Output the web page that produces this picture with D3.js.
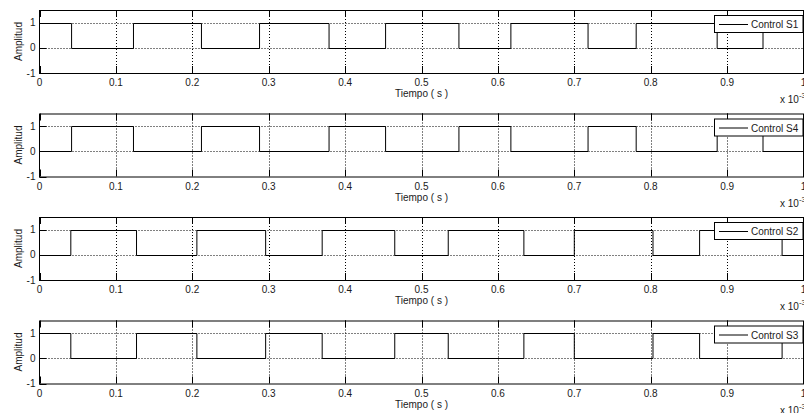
<!DOCTYPE html>
<html>
<head>
<meta charset="utf-8">
<script src="https://cdn.jsdelivr.net/npm/d3@7"></script>
<style>
  body { margin: 0; background: #fff; }
  svg { display: block; }
  text { font-family: "Liberation Sans", Arial, Helvetica, sans-serif; fill: #1a1a1a; }
</style>
</head>
<body>
<div id="container"></div>
<script>
// ---- data, time in ms (x 10^-3 s) ----
var xTicks = [0, 0.1, 0.2, 0.3, 0.4, 0.5, 0.6, 0.7, 0.8, 0.9, 1];
var xTickLabels = ["0", "0.1", "0.2", "0.3", "0.4", "0.5", "0.6", "0.7", "0.8", "0.9", "1"];
var yTicks = [-1, 0, 1];
var yTickLabels = ["-1", "0", "1"];
var seriesNames = ["Control S1", "Control S4", "Control S2", "Control S3"];

var s1Times  = [0, 0.042, 0.123, 0.212, 0.288, 0.379, 0.453, 0.549, 0.617, 0.718, 0.781, 0.887, 0.947, 1];
var s1Levels = [1, 0, 1, 0, 1, 0, 1, 0, 1, 0, 1, 0, 1, 1];
var s4Times  = [0, 0.042, 0.123, 0.212, 0.288, 0.379, 0.453, 0.549, 0.617, 0.718, 0.781, 0.887, 0.947, 1];
var s4Levels = [0, 1, 0, 1, 0, 1, 0, 1, 0, 1, 0, 1, 0, 0];
var s2Times  = [0, 0.041, 0.127, 0.206, 0.296, 0.370, 0.465, 0.535, 0.634, 0.700, 0.803, 0.864, 0.972, 1];
var s2Levels = [0, 1, 0, 1, 0, 1, 0, 1, 0, 1, 0, 1, 0, 0];
var s3Times  = [0, 0.041, 0.127, 0.206, 0.296, 0.370, 0.465, 0.535, 0.634, 0.700, 0.803, 0.864, 0.972, 1];
var s3Levels = [1, 0, 1, 0, 1, 0, 1, 0, 1, 0, 1, 0, 1, 1];

var panels = [
  {name: seriesNames[0], times: s1Times, levels: s1Levels},
  {name: seriesNames[1], times: s4Times, levels: s4Levels},
  {name: seriesNames[2], times: s2Times, levels: s2Levels},
  {name: seriesNames[3], times: s3Times, levels: s3Levels}
];

// ---- layout ----
const width = 804;
const height = 413;
const left = 39.5;
const right = 803.5;
const tops = [10, 113.5, 217, 320.5];
const plotH = 63;
const tickLen = 7;

const svg = d3.select("div#container").append("svg")
    .attr("width", width)
    .attr("height", height);

const xScale = d3.scaleLinear().domain([0, 1]).range([left, right]);

const line = d3.line()
    .x(function(d) { return xScale(d.t); })
    .y(function(d) { return d.y; })
    .curve(d3.curveStepAfter);

panels.forEach(function(p, i) {
  var top = tops[i];
  var yScale = d3.scaleLinear().domain([-1, 1.5]).range([top + plotH, top]);
  var g = svg.append("g");

  // grid (dotted)
  g.selectAll(".gx")
    .data(xTicks.slice(1, -1))
    .enter().append("line")
    .attr("x1", function(d) { return Math.round(xScale(d)) + 0.5; })
    .attr("x2", function(d) { return Math.round(xScale(d)) + 0.5; })
    .attr("y1", top).attr("y2", top + plotH)
    .attr("stroke", "#000").attr("stroke-width", 1)
    .attr("stroke-dasharray", "1,2");
  g.selectAll(".gy")
    .data(yTicks.slice(1))
    .enter().append("line")
    .attr("x1", left).attr("x2", right)
    .attr("y1", function(d) { return Math.round(yScale(d)) + 0.5; })
    .attr("y2", function(d) { return Math.round(yScale(d)) + 0.5; })
    .attr("stroke", "#000").attr("stroke-width", 1)
    .attr("stroke-dasharray", "1,2");

  // tick marks inside (top, bottom, left)
  g.selectAll(".tb")
    .data(xTicks)
    .enter().append("path")
    .attr("d", function(d) {
      var x = Math.round(xScale(d)) + 0.5;
      return "M" + x + "," + (top + plotH) + "v" + (-tickLen) +
             "M" + x + "," + top + "v" + tickLen;
    })
    .attr("stroke", "#000").attr("fill", "none");
  g.selectAll(".tl")
    .data(yTicks)
    .enter().append("path")
    .attr("d", function(d) {
      var y = Math.round(yScale(d)) + 0.5;
      return "M" + left + "," + y + "h" + tickLen;
    })
    .attr("stroke", "#000").attr("fill", "none");

  // signal
  var pts = p.times.map(function(t, k) { return {t: t, y: Math.round(yScale(p.levels[k])) + 0.5}; });
  g.append("path")
    .datum(pts)
    .attr("d", line)
    .attr("fill", "none")
    .attr("stroke", "#000")
    .attr("stroke-width", 1);

  // frame
  g.append("rect")
    .attr("x", left).attr("y", top + 0.5)
    .attr("width", right - left).attr("height", plotH)
    .attr("fill", "none").attr("stroke", "#000").attr("stroke-width", 1);

  // tick labels
  g.selectAll(".xl")
    .data(xTicks)
    .enter().append("text")
    .attr("x", function(d) { return xScale(d); })
    .attr("y", top + plotH + 13)
    .attr("text-anchor", "middle")
    .attr("font-size", 10)
    .text(function(d, k) { return xTickLabels[k]; });
  g.selectAll(".yl")
    .data(yTicks)
    .enter().append("text")
    .attr("x", left - 4)
    .attr("y", function(d) { return yScale(d) + 3.5; })
    .attr("text-anchor", "end")
    .attr("font-size", 10)
    .text(function(d, k) { return yTickLabels[k]; });

  // axis labels
  g.append("text")
    .attr("transform", "translate(22," + (top + plotH / 2) + ") rotate(-90)")
    .attr("text-anchor", "middle")
    .attr("font-size", 10)
    .text("Amplitud");
  g.append("text")
    .attr("x", (left + right) / 2)
    .attr("y", top + plotH + 24)
    .attr("text-anchor", "middle")
    .attr("font-size", 10)
    .text("Tiempo ( s )");
  var ex = g.append("text")
    .attr("x", 780)
    .attr("y", top + plotH + 30)
    .attr("font-size", 10);
  ex.append("tspan").text("x 10");
  ex.append("tspan").attr("dy", -5).attr("font-size", 8).text("-3");

  // legend
  var lg = g.append("g");
  lg.append("rect")
    .attr("x", 714.5).attr("y", top + 5.5)
    .attr("width", 88.5).attr("height", 17)
    .attr("fill", "#fff").attr("stroke", "#000");
  lg.append("line")
    .attr("x1", 719).attr("x2", 748)
    .attr("y1", top + 14.5).attr("y2", top + 14.5)
    .attr("stroke", "#000");
  lg.append("text")
    .attr("x", 751).attr("y", top + 18)
    .attr("font-size", 10)
    .text(p.name);
});
</script>
</body>
</html>
